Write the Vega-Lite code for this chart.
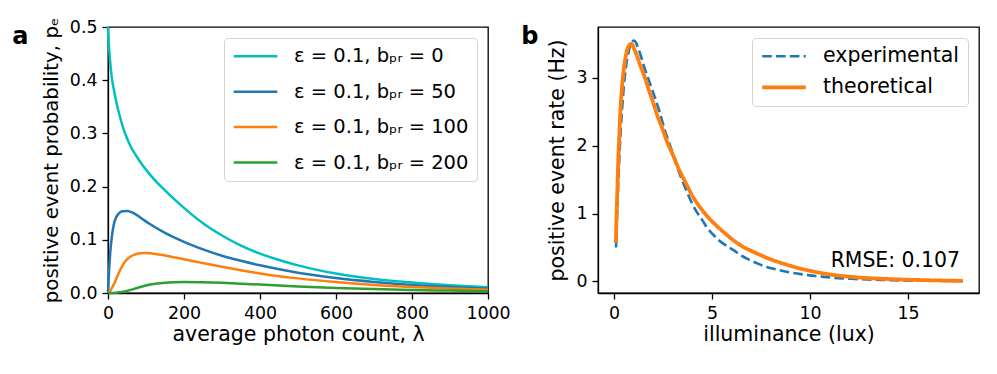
{
  "$schema": "https://vega.github.io/schema/vega-lite/v6.json",
  "padding": {"left": 11, "top": 16, "right": 5, "bottom": 5},
  "background": "white",
  "config": {
    "font": "DejaVu Sans",
    "view": {"stroke": "black", "strokeWidth": 1.3},
    "axis": {
      "grid": false,
      "domainColor": "black",
      "domainWidth": 1.3,
      "tickColor": "black",
      "tickWidth": 1.3,
      "tickSize": 6,
      "labelFont": "DejaVu Sans",
      "labelFontSize": 17.4,
      "labelColor": "black",
      "labelPadding": 5,
      "labelFlush": false,
      "labelOverlap": false,
      "titleFont": "DejaVu Sans",
      "titleFontSize": 20.5,
      "titleFontWeight": "normal",
      "titleColor": "black"
    },
    "axisX": {"titlePadding": 3},
    "axisY": {"titlePadding": 8},
    "legend": {
      "orient": "top-right",
      "offset": 11,
      "fillColor": "rgba(255,255,255,0.8)",
      "strokeColor": "#d3d3d3",
      "cornerRadius": 4,
      "padding": 8,
      "symbolType": "stroke",
      "symbolSize": 1900,
      "clipHeight": 20.6,
      "labelFont": "DejaVu Sans",
      "labelFontSize": 19.5,
      "labelColor": "black",
      "labelOffset": 15,
      "labelLimit": 400,
      "title": null
    }
  },
  "hconcat": [
    {
      "width": 380,
      "height": 266,
      "layer": [
        {
          "data": {"values": [
            {"lam": 0, "p": 0.5, "s": "ε = 0.1, bₚᵣ = 0"},
            {"lam": 2, "p": 0.47, "s": "ε = 0.1, bₚᵣ = 0"},
            {"lam": 5, "p": 0.44, "s": "ε = 0.1, bₚᵣ = 0"},
            {"lam": 10, "p": 0.405, "s": "ε = 0.1, bₚᵣ = 0"},
            {"lam": 15, "p": 0.384, "s": "ε = 0.1, bₚᵣ = 0"},
            {"lam": 20, "p": 0.365, "s": "ε = 0.1, bₚᵣ = 0"},
            {"lam": 30, "p": 0.335, "s": "ε = 0.1, bₚᵣ = 0"},
            {"lam": 40, "p": 0.31, "s": "ε = 0.1, bₚᵣ = 0"},
            {"lam": 50, "p": 0.291, "s": "ε = 0.1, bₚᵣ = 0"},
            {"lam": 60, "p": 0.275, "s": "ε = 0.1, bₚᵣ = 0"},
            {"lam": 75, "p": 0.257, "s": "ε = 0.1, bₚᵣ = 0"},
            {"lam": 90, "p": 0.241, "s": "ε = 0.1, bₚᵣ = 0"},
            {"lam": 110, "p": 0.223, "s": "ε = 0.1, bₚᵣ = 0"},
            {"lam": 130, "p": 0.207, "s": "ε = 0.1, bₚᵣ = 0"},
            {"lam": 150, "p": 0.193, "s": "ε = 0.1, bₚᵣ = 0"},
            {"lam": 175, "p": 0.176, "s": "ε = 0.1, bₚᵣ = 0"},
            {"lam": 200, "p": 0.16, "s": "ε = 0.1, bₚᵣ = 0"},
            {"lam": 250, "p": 0.131, "s": "ε = 0.1, bₚᵣ = 0"},
            {"lam": 300, "p": 0.108, "s": "ε = 0.1, bₚᵣ = 0"},
            {"lam": 350, "p": 0.089, "s": "ε = 0.1, bₚᵣ = 0"},
            {"lam": 400, "p": 0.074, "s": "ε = 0.1, bₚᵣ = 0"},
            {"lam": 450, "p": 0.062, "s": "ε = 0.1, bₚᵣ = 0"},
            {"lam": 500, "p": 0.052, "s": "ε = 0.1, bₚᵣ = 0"},
            {"lam": 550, "p": 0.0435, "s": "ε = 0.1, bₚᵣ = 0"},
            {"lam": 600, "p": 0.0365, "s": "ε = 0.1, bₚᵣ = 0"},
            {"lam": 650, "p": 0.031, "s": "ε = 0.1, bₚᵣ = 0"},
            {"lam": 700, "p": 0.0265, "s": "ε = 0.1, bₚᵣ = 0"},
            {"lam": 750, "p": 0.0228, "s": "ε = 0.1, bₚᵣ = 0"},
            {"lam": 800, "p": 0.0197, "s": "ε = 0.1, bₚᵣ = 0"},
            {"lam": 850, "p": 0.017, "s": "ε = 0.1, bₚᵣ = 0"},
            {"lam": 900, "p": 0.0147, "s": "ε = 0.1, bₚᵣ = 0"},
            {"lam": 950, "p": 0.0127, "s": "ε = 0.1, bₚᵣ = 0"},
            {"lam": 1000, "p": 0.011, "s": "ε = 0.1, bₚᵣ = 0"},

            {"lam": 0, "p": 0, "s": "ε = 0.1, bₚᵣ = 50"},
            {"lam": 2, "p": 0.03, "s": "ε = 0.1, bₚᵣ = 50"},
            {"lam": 4, "p": 0.056, "s": "ε = 0.1, bₚᵣ = 50"},
            {"lam": 6, "p": 0.077, "s": "ε = 0.1, bₚᵣ = 50"},
            {"lam": 10, "p": 0.105, "s": "ε = 0.1, bₚᵣ = 50"},
            {"lam": 15, "p": 0.128, "s": "ε = 0.1, bₚᵣ = 50"},
            {"lam": 20, "p": 0.14, "s": "ε = 0.1, bₚᵣ = 50"},
            {"lam": 28, "p": 0.149, "s": "ε = 0.1, bₚᵣ = 50"},
            {"lam": 38, "p": 0.1535, "s": "ε = 0.1, bₚᵣ = 50"},
            {"lam": 50, "p": 0.154, "s": "ε = 0.1, bₚᵣ = 50"},
            {"lam": 65, "p": 0.151, "s": "ε = 0.1, bₚᵣ = 50"},
            {"lam": 85, "p": 0.142, "s": "ε = 0.1, bₚᵣ = 50"},
            {"lam": 107, "p": 0.131, "s": "ε = 0.1, bₚᵣ = 50"},
            {"lam": 150, "p": 0.113, "s": "ε = 0.1, bₚᵣ = 50"},
            {"lam": 200, "p": 0.096, "s": "ε = 0.1, bₚᵣ = 50"},
            {"lam": 250, "p": 0.082, "s": "ε = 0.1, bₚᵣ = 50"},
            {"lam": 300, "p": 0.07, "s": "ε = 0.1, bₚᵣ = 50"},
            {"lam": 350, "p": 0.0605, "s": "ε = 0.1, bₚᵣ = 50"},
            {"lam": 400, "p": 0.052, "s": "ε = 0.1, bₚᵣ = 50"},
            {"lam": 500, "p": 0.038, "s": "ε = 0.1, bₚᵣ = 50"},
            {"lam": 600, "p": 0.028, "s": "ε = 0.1, bₚᵣ = 50"},
            {"lam": 700, "p": 0.0207, "s": "ε = 0.1, bₚᵣ = 50"},
            {"lam": 800, "p": 0.0152, "s": "ε = 0.1, bₚᵣ = 50"},
            {"lam": 900, "p": 0.0112, "s": "ε = 0.1, bₚᵣ = 50"},
            {"lam": 1000, "p": 0.0083, "s": "ε = 0.1, bₚᵣ = 50"},

            {"lam": 0, "p": 0, "s": "ε = 0.1, bₚᵣ = 100"},
            {"lam": 5, "p": 0.003, "s": "ε = 0.1, bₚᵣ = 100"},
            {"lam": 10, "p": 0.009, "s": "ε = 0.1, bₚᵣ = 100"},
            {"lam": 19, "p": 0.022, "s": "ε = 0.1, bₚᵣ = 100"},
            {"lam": 28, "p": 0.037, "s": "ε = 0.1, bₚᵣ = 100"},
            {"lam": 37, "p": 0.05, "s": "ε = 0.1, bₚᵣ = 100"},
            {"lam": 46, "p": 0.06, "s": "ε = 0.1, bₚᵣ = 100"},
            {"lam": 55, "p": 0.0665, "s": "ε = 0.1, bₚᵣ = 100"},
            {"lam": 70, "p": 0.0722, "s": "ε = 0.1, bₚᵣ = 100"},
            {"lam": 85, "p": 0.0745, "s": "ε = 0.1, bₚᵣ = 100"},
            {"lam": 100, "p": 0.075, "s": "ε = 0.1, bₚᵣ = 100"},
            {"lam": 125, "p": 0.0735, "s": "ε = 0.1, bₚᵣ = 100"},
            {"lam": 150, "p": 0.0705, "s": "ε = 0.1, bₚᵣ = 100"},
            {"lam": 200, "p": 0.0635, "s": "ε = 0.1, bₚᵣ = 100"},
            {"lam": 250, "p": 0.0562, "s": "ε = 0.1, bₚᵣ = 100"},
            {"lam": 300, "p": 0.0492, "s": "ε = 0.1, bₚᵣ = 100"},
            {"lam": 350, "p": 0.0428, "s": "ε = 0.1, bₚᵣ = 100"},
            {"lam": 400, "p": 0.0368, "s": "ε = 0.1, bₚᵣ = 100"},
            {"lam": 500, "p": 0.0275, "s": "ε = 0.1, bₚᵣ = 100"},
            {"lam": 600, "p": 0.0205, "s": "ε = 0.1, bₚᵣ = 100"},
            {"lam": 700, "p": 0.0152, "s": "ε = 0.1, bₚᵣ = 100"},
            {"lam": 800, "p": 0.0113, "s": "ε = 0.1, bₚᵣ = 100"},
            {"lam": 900, "p": 0.0084, "s": "ε = 0.1, bₚᵣ = 100"},
            {"lam": 1000, "p": 0.0062, "s": "ε = 0.1, bₚᵣ = 100"},

            {"lam": 0, "p": 0, "s": "ε = 0.1, bₚᵣ = 200"},
            {"lam": 20, "p": 0.0005, "s": "ε = 0.1, bₚᵣ = 200"},
            {"lam": 40, "p": 0.0022, "s": "ε = 0.1, bₚᵣ = 200"},
            {"lam": 60, "p": 0.0058, "s": "ε = 0.1, bₚᵣ = 200"},
            {"lam": 80, "p": 0.0102, "s": "ε = 0.1, bₚᵣ = 200"},
            {"lam": 100, "p": 0.0141, "s": "ε = 0.1, bₚᵣ = 200"},
            {"lam": 125, "p": 0.0172, "s": "ε = 0.1, bₚᵣ = 200"},
            {"lam": 150, "p": 0.0192, "s": "ε = 0.1, bₚᵣ = 200"},
            {"lam": 175, "p": 0.0202, "s": "ε = 0.1, bₚᵣ = 200"},
            {"lam": 200, "p": 0.0206, "s": "ε = 0.1, bₚᵣ = 200"},
            {"lam": 250, "p": 0.0203, "s": "ε = 0.1, bₚᵣ = 200"},
            {"lam": 300, "p": 0.0192, "s": "ε = 0.1, bₚᵣ = 200"},
            {"lam": 350, "p": 0.0176, "s": "ε = 0.1, bₚᵣ = 200"},
            {"lam": 400, "p": 0.0158, "s": "ε = 0.1, bₚᵣ = 200"},
            {"lam": 500, "p": 0.0124, "s": "ε = 0.1, bₚᵣ = 200"},
            {"lam": 600, "p": 0.0096, "s": "ε = 0.1, bₚᵣ = 200"},
            {"lam": 700, "p": 0.0074, "s": "ε = 0.1, bₚᵣ = 200"},
            {"lam": 800, "p": 0.0057, "s": "ε = 0.1, bₚᵣ = 200"},
            {"lam": 900, "p": 0.0045, "s": "ε = 0.1, bₚᵣ = 200"},
            {"lam": 1000, "p": 0.0035, "s": "ε = 0.1, bₚᵣ = 200"}
          ]},
          "mark": {"type": "line", "strokeWidth": 2.5, "interpolate": "monotone"},
          "encoding": {
            "x": {"field": "lam", "type": "quantitative", "scale": {"domain": [0, 1000], "nice": false},
                  "axis": {"title": "average photon count, λ", "values": [0, 200, 400, 600, 800, 1000], "format": "d"}},
            "y": {"field": "p", "type": "quantitative", "scale": {"domain": [0, 0.5], "nice": false},
                  "axis": {"title": "positive event probability, pₑ", "titleFontSize": 19.8, "values": [0, 0.1, 0.2, 0.3, 0.4, 0.5], "format": ".1f"}},
            "color": {"field": "s", "type": "nominal",
                      "scale": {"domain": ["ε = 0.1, bₚᵣ = 0", "ε = 0.1, bₚᵣ = 50", "ε = 0.1, bₚᵣ = 100", "ε = 0.1, bₚᵣ = 200"],
                                "range": ["#00bfbf", "#1f77b4", "#ff7f0e", "#2ca02c"]},
                      "legend": {"symbolStrokeWidth": 2.5, "rowPadding": 14.4}}
          }
        },
        {
          "data": {"values": [{"lam": -252, "p": 0.468, "label": "a"}]},
          "mark": {"type": "text", "align": "left", "baseline": "alphabetic", "fontSize": 24, "fontWeight": "bold", "font": "DejaVu Sans", "color": "black"},
          "encoding": {
            "x": {"field": "lam", "type": "quantitative"},
            "y": {"field": "p", "type": "quantitative"},
            "text": {"field": "label"}
          }
        }
      ]
    },
    {
      "width": 381,
      "height": 266,
      "layer": [
        {
          "data": {"values": [
            {"x": 0.1, "y": 0.5, "s": "experimental"},
            {"x": 0.15, "y": 0.95, "s": "experimental"},
            {"x": 0.2, "y": 1.35, "s": "experimental"},
            {"x": 0.3, "y": 2.0, "s": "experimental"},
            {"x": 0.4, "y": 2.5, "s": "experimental"},
            {"x": 0.5, "y": 2.88, "s": "experimental"},
            {"x": 0.6, "y": 3.15, "s": "experimental"},
            {"x": 0.7, "y": 3.33, "s": "experimental"},
            {"x": 0.8, "y": 3.45, "s": "experimental"},
            {"x": 0.9, "y": 3.52, "s": "experimental"},
            {"x": 1.0, "y": 3.55, "s": "experimental"},
            {"x": 1.1, "y": 3.53, "s": "experimental"},
            {"x": 1.2, "y": 3.46, "s": "experimental"},
            {"x": 1.36, "y": 3.33, "s": "experimental"},
            {"x": 1.55, "y": 3.15, "s": "experimental"},
            {"x": 1.79, "y": 2.95, "s": "experimental"},
            {"x": 2.0, "y": 2.78, "s": "experimental"},
            {"x": 2.3, "y": 2.52, "s": "experimental"},
            {"x": 2.6, "y": 2.22, "s": "experimental"},
            {"x": 2.98, "y": 1.9, "s": "experimental"},
            {"x": 3.2, "y": 1.7, "s": "experimental"},
            {"x": 3.49, "y": 1.48, "s": "experimental"},
            {"x": 3.75, "y": 1.3, "s": "experimental"},
            {"x": 4.0, "y": 1.14, "s": "experimental"},
            {"x": 4.25, "y": 1.01, "s": "experimental"},
            {"x": 4.51, "y": 0.9, "s": "experimental"},
            {"x": 4.75, "y": 0.79, "s": "experimental"},
            {"x": 5.02, "y": 0.7, "s": "experimental"},
            {"x": 5.3, "y": 0.62, "s": "experimental"},
            {"x": 5.61, "y": 0.55, "s": "experimental"},
            {"x": 6.12, "y": 0.457, "s": "experimental"},
            {"x": 6.5, "y": 0.38, "s": "experimental"},
            {"x": 6.97, "y": 0.31, "s": "experimental"},
            {"x": 7.4, "y": 0.255, "s": "experimental"},
            {"x": 7.83, "y": 0.21, "s": "experimental"},
            {"x": 8.25, "y": 0.18, "s": "experimental"},
            {"x": 8.67, "y": 0.152, "s": "experimental"},
            {"x": 9.1, "y": 0.128, "s": "experimental"},
            {"x": 9.53, "y": 0.108, "s": "experimental"},
            {"x": 10.0, "y": 0.09, "s": "experimental"},
            {"x": 10.38, "y": 0.078, "s": "experimental"},
            {"x": 11.22, "y": 0.053, "s": "experimental"},
            {"x": 12.08, "y": 0.04, "s": "experimental"},
            {"x": 12.93, "y": 0.029, "s": "experimental"},
            {"x": 13.8, "y": 0.021, "s": "experimental"},
            {"x": 14.63, "y": 0.015, "s": "experimental"},
            {"x": 15.5, "y": 0.012, "s": "experimental"},
            {"x": 16.33, "y": 0.01, "s": "experimental"},
            {"x": 17.1, "y": 0.009, "s": "experimental"},
            {"x": 17.8, "y": 0.008, "s": "experimental"},

            {"x": 0.09, "y": 0.57, "s": "theoretical"},
            {"x": 0.13, "y": 1.0, "s": "theoretical"},
            {"x": 0.17, "y": 1.37, "s": "theoretical"},
            {"x": 0.21, "y": 1.75, "s": "theoretical"},
            {"x": 0.26, "y": 2.1, "s": "theoretical"},
            {"x": 0.34, "y": 2.6, "s": "theoretical"},
            {"x": 0.43, "y": 2.94, "s": "theoretical"},
            {"x": 0.52, "y": 3.18, "s": "theoretical"},
            {"x": 0.6, "y": 3.33, "s": "theoretical"},
            {"x": 0.7, "y": 3.44, "s": "theoretical"},
            {"x": 0.8, "y": 3.49, "s": "theoretical"},
            {"x": 0.87, "y": 3.5, "s": "theoretical"},
            {"x": 0.95, "y": 3.48, "s": "theoretical"},
            {"x": 1.02, "y": 3.43, "s": "theoretical"},
            {"x": 1.15, "y": 3.34, "s": "theoretical"},
            {"x": 1.28, "y": 3.23, "s": "theoretical"},
            {"x": 1.45, "y": 3.1, "s": "theoretical"},
            {"x": 1.62, "y": 2.96, "s": "theoretical"},
            {"x": 1.8, "y": 2.8, "s": "theoretical"},
            {"x": 1.96, "y": 2.67, "s": "theoretical"},
            {"x": 2.2, "y": 2.45, "s": "theoretical"},
            {"x": 2.47, "y": 2.25, "s": "theoretical"},
            {"x": 2.7, "y": 2.06, "s": "theoretical"},
            {"x": 2.98, "y": 1.88, "s": "theoretical"},
            {"x": 3.3, "y": 1.66, "s": "theoretical"},
            {"x": 3.66, "y": 1.45, "s": "theoretical"},
            {"x": 4.0, "y": 1.26, "s": "theoretical"},
            {"x": 4.42, "y": 1.08, "s": "theoretical"},
            {"x": 4.85, "y": 0.93, "s": "theoretical"},
            {"x": 5.27, "y": 0.81, "s": "theoretical"},
            {"x": 5.7, "y": 0.7, "s": "theoretical"},
            {"x": 6.12, "y": 0.6, "s": "theoretical"},
            {"x": 6.5, "y": 0.525, "s": "theoretical"},
            {"x": 6.97, "y": 0.455, "s": "theoretical"},
            {"x": 7.4, "y": 0.398, "s": "theoretical"},
            {"x": 7.83, "y": 0.344, "s": "theoretical"},
            {"x": 8.25, "y": 0.3, "s": "theoretical"},
            {"x": 8.67, "y": 0.26, "s": "theoretical"},
            {"x": 9.1, "y": 0.222, "s": "theoretical"},
            {"x": 9.53, "y": 0.188, "s": "theoretical"},
            {"x": 10.0, "y": 0.157, "s": "theoretical"},
            {"x": 10.38, "y": 0.135, "s": "theoretical"},
            {"x": 11.22, "y": 0.095, "s": "theoretical"},
            {"x": 12.08, "y": 0.068, "s": "theoretical"},
            {"x": 12.93, "y": 0.05, "s": "theoretical"},
            {"x": 13.8, "y": 0.038, "s": "theoretical"},
            {"x": 14.63, "y": 0.029, "s": "theoretical"},
            {"x": 15.5, "y": 0.022, "s": "theoretical"},
            {"x": 16.33, "y": 0.016, "s": "theoretical"},
            {"x": 17.1, "y": 0.012, "s": "theoretical"},
            {"x": 17.8, "y": 0.009, "s": "theoretical"}
          ]},
          "mark": {"type": "line", "interpolate": "monotone"},
          "encoding": {
            "x": {"field": "x", "type": "quantitative", "scale": {"domain": [-0.82, 18.62], "nice": false, "zero": false},
                  "axis": {"title": "illuminance (lux)", "values": [0, 5, 10, 15], "format": "d"}},
            "y": {"field": "y", "type": "quantitative", "scale": {"domain": [-0.17, 3.75], "nice": false, "zero": false},
                  "axis": {"title": "positive event rate (Hz)", "values": [0, 1, 2, 3], "format": "d"}},
            "color": {"field": "s", "type": "nominal", "scale": {"domain": ["experimental", "theoretical"], "range": ["#1f77b4", "#ff7f0e"]},
                      "legend": {"rowPadding": 10, "labelFontSize": 20.5}},
            "strokeDash": {"field": "s", "type": "nominal", "scale": {"domain": ["experimental", "theoretical"], "range": [[9.6, 4.2], [1, 0]]}},
            "strokeWidth": {"field": "s", "type": "nominal", "scale": {"domain": ["experimental", "theoretical"], "range": [2.6, 3.8]}}
          }
        },
        {
          "data": {"values": [{"x": 17.65, "y": 0.21, "label": "RMSE: 0.107"}]},
          "mark": {"type": "text", "align": "right", "baseline": "alphabetic", "fontSize": 20.4, "font": "DejaVu Sans", "color": "black"},
          "encoding": {
            "x": {"field": "x", "type": "quantitative"},
            "y": {"field": "y", "type": "quantitative"},
            "text": {"field": "label"}
          }
        },
        {
          "data": {"values": [{"x": -4.74, "y": 3.5, "label": "b"}]},
          "mark": {"type": "text", "align": "left", "baseline": "alphabetic", "fontSize": 24, "fontWeight": "bold", "font": "DejaVu Sans", "color": "black"},
          "encoding": {
            "x": {"field": "x", "type": "quantitative"},
            "y": {"field": "y", "type": "quantitative"},
            "text": {"field": "label"}
          }
        }
      ]
    }
  ],
  "spacing": 110,
  "bounds": "flush",
  "resolve": {"scale": {"color": "independent", "strokeDash": "independent", "strokeWidth": "independent"}, "legend": {"color": "independent"}}
}
